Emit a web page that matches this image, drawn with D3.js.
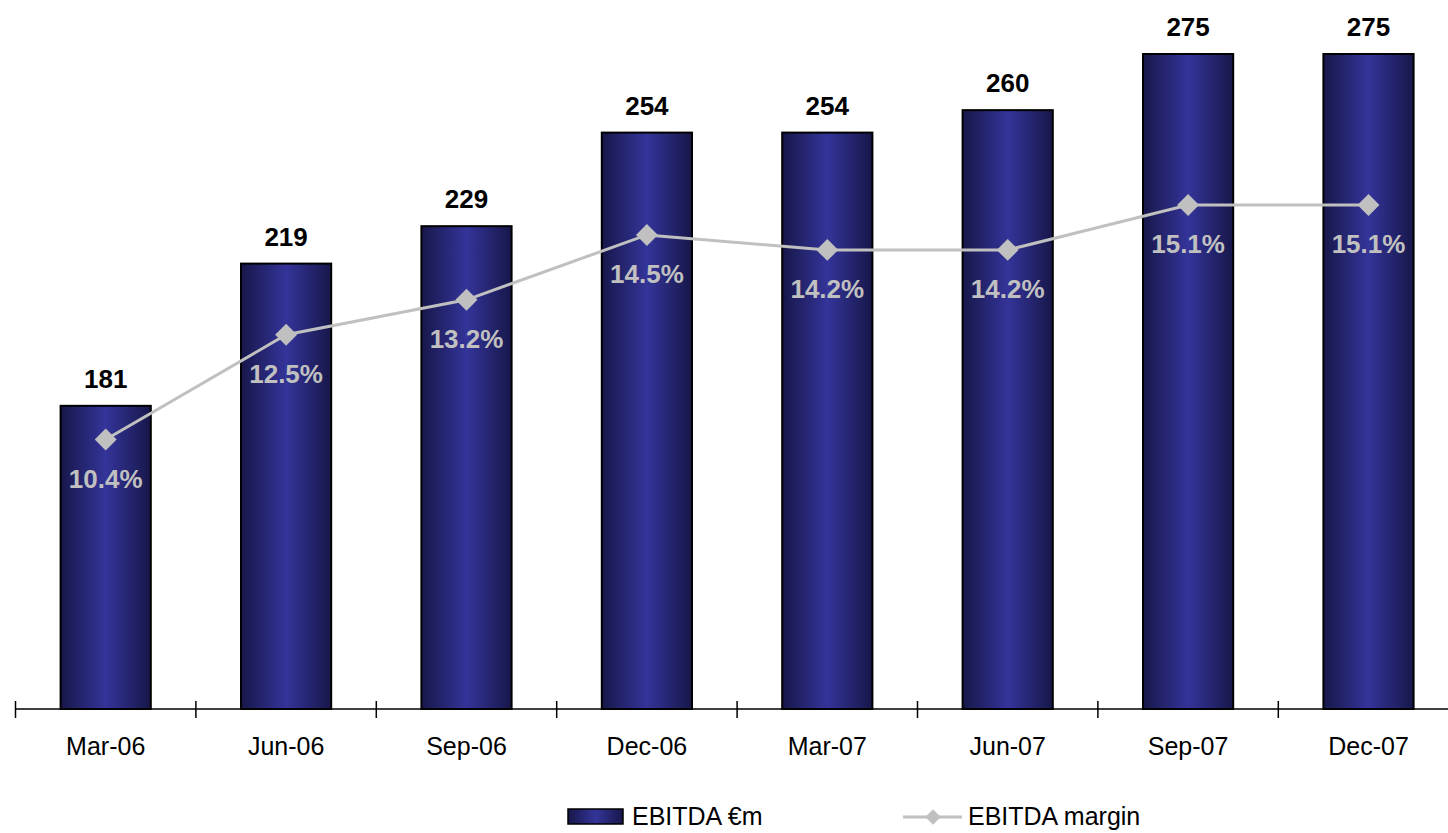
<!DOCTYPE html>
<html>
<head>
<meta charset="utf-8">
<script src="https://cdn.jsdelivr.net/npm/d3@7"></script>
<style>
  body { margin: 0; background: #fff; }
  svg { display: block; font-family: "Liberation Sans", Arial, sans-serif; }
</style>
</head>
<body>
<svg id="chart"></svg>
<script>
// chart data
const categories = ["Mar-06", "Jun-06", "Sep-06", "Dec-06", "Mar-07", "Jun-07", "Sep-07", "Dec-07"];
const ebitda = [181, 219, 229, 254, 254, 260, 275, 275];
const margin = [10.4, 12.5, 13.2, 14.5, 14.2, 14.2, 15.1, 15.1];

const width = 1448;
const height = 833;
const svg = d3.select("#chart").attr("width", width).attr("height", height);

const axisY = 709;

// scales
const x = d3.scaleBand()
  .domain(categories)
  .range([15.5, 15.5 + 8 * 180.4])
  .paddingInner(0.5)
  .paddingOuter(0.25);

const y = d3.scaleLinear().domain([100, 275]).range([axisY, 54]);
const yM = d3.scaleLinear().domain([5, 15.1]).range([axisY, 205]);

// bar gradient
const defs = svg.append("defs");
const grad = defs.append("linearGradient").attr("id", "barGrad")
  .attr("x1", "0%").attr("x2", "100%").attr("y1", "0%").attr("y2", "0%");
grad.append("stop").attr("offset", "0%").attr("stop-color", "#17174a");
grad.append("stop").attr("offset", "50%").attr("stop-color", "#34349a");
grad.append("stop").attr("offset", "100%").attr("stop-color", "#17174a");

// bars
svg.selectAll(".bar")
  .data(ebitda)
  .enter().append("rect")
  .attr("class", "bar")
  .attr("x", (d, i) => x(categories[i]))
  .attr("y", d => y(d))
  .attr("width", x.bandwidth())
  .attr("height", d => axisY - y(d))
  .attr("fill", "url(#barGrad)")
  .attr("stroke", "#000")
  .attr("stroke-width", 2);

// bar value labels
svg.selectAll(".barLabel")
  .data(ebitda)
  .enter().append("text")
  .attr("x", (d, i) => x(categories[i]) + x.bandwidth() / 2)
  .attr("y", d => y(d) - 18)
  .attr("text-anchor", "middle")
  .style("font-size", "26px")
  .style("font-weight", "bold")
  .attr("fill", "#000")
  .text(d => d);

// x axis
const xAxis = svg.append("g")
  .attr("transform", `translate(0, ${axisY})`)
  .call(d3.axisBottom(x).tickSize(0).tickPadding(28));
xAxis.select(".domain").remove();
xAxis.selectAll("text")
  .style("font-size", "25px")
  .style("font-family", "'Liberation Sans', Arial, sans-serif")
  .attr("fill", "#000");

svg.append("line")
  .attr("x1", 15.5).attr("x2", width)
  .attr("y1", axisY).attr("y2", axisY)
  .attr("stroke", "#000").attr("stroke-width", 1.5);

const gap = (x.step() - x.bandwidth()) / 2;
svg.selectAll(".tick-mark")
  .data(categories)
  .enter().append("line")
  .attr("x1", d => x(d) - gap).attr("x2", d => x(d) - gap)
  .attr("y1", axisY - 8).attr("y2", axisY + 9)
  .attr("stroke", "#000").attr("stroke-width", 1.5);

// margin line
const line = d3.line()
  .x((d, i) => x(categories[i]) + x.bandwidth() / 2)
  .y(d => yM(d));

svg.append("path")
  .datum(margin)
  .attr("d", line)
  .attr("fill", "none")
  .attr("stroke", "#c0c0c0")
  .attr("stroke-width", 3);

const diamond = d3.symbol().type(d3.symbolSquare).size(240);
svg.selectAll(".marker")
  .data(margin)
  .enter().append("path")
  .attr("d", diamond)
  .attr("transform", (d, i) => `translate(${x(categories[i]) + x.bandwidth() / 2}, ${yM(d)}) rotate(45)`)
  .attr("fill", "#c0c0c0");

svg.selectAll(".marginLabel")
  .data(margin)
  .enter().append("text")
  .attr("x", (d, i) => x(categories[i]) + x.bandwidth() / 2)
  .attr("y", d => yM(d) + 48)
  .attr("text-anchor", "middle")
  .style("font-size", "26px")
  .style("font-weight", "bold")
  .attr("fill", "#c0c0c0")
  .text(d => d.toFixed(1) + "%");

// legend
const legend = svg.append("g");
legend.append("rect")
  .attr("x", 568).attr("y", 809).attr("width", 55).attr("height", 15)
  .attr("fill", "url(#barGrad)").attr("stroke", "#000").attr("stroke-width", 1.5);
legend.append("text")
  .attr("x", 632).attr("y", 825)
  .style("font-size", "25px")
  .text("EBITDA €m");

legend.append("line")
  .attr("x1", 903).attr("x2", 962).attr("y1", 817).attr("y2", 817)
  .attr("stroke", "#c0c0c0").attr("stroke-width", 3);
legend.append("path")
  .attr("d", d3.symbol().type(d3.symbolSquare).size(120))
  .attr("transform", "translate(933, 817) rotate(45)")
  .attr("fill", "#c0c0c0");
legend.append("text")
  .attr("x", 968).attr("y", 825)
  .style("font-size", "25px")
  .text("EBITDA margin");
</script>
</body>
</html>
